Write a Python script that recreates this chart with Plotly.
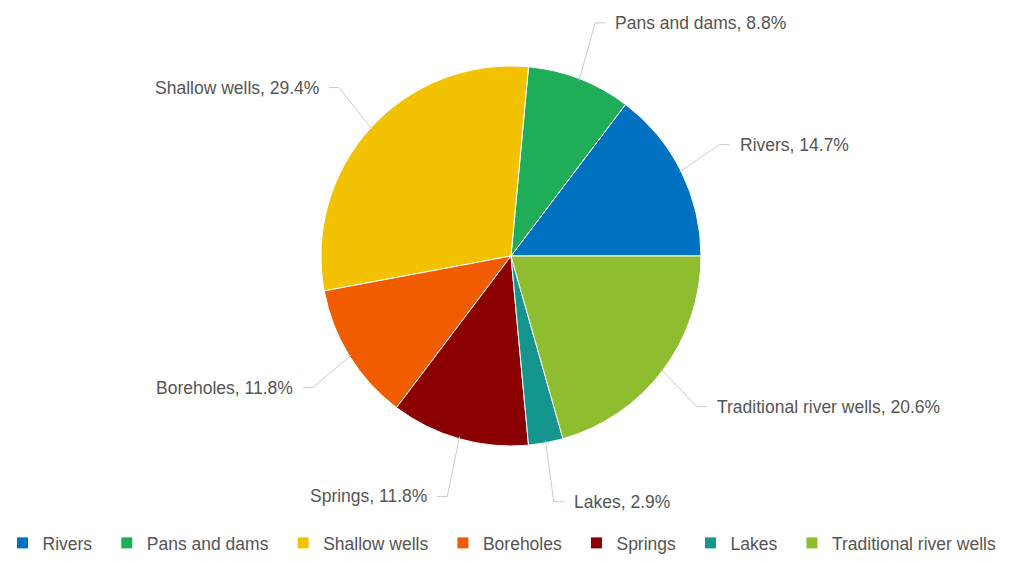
import math
import plotly.graph_objects as go

labels = ["Rivers", "Pans and dams", "Shallow wells", "Boreholes", "Springs", "Lakes", "Traditional river wells"]
counts = [5, 3, 10, 4, 4, 1, 7]
colors = ["#0070c0", "#1fae57", "#f2c200", "#f25c00", "#8b0000", "#14968f", "#8ebd2f"]

W, H = 1013, 561
CX, CY, R = 511, 256, 190
FONT = "Liberation Sans, Arial, sans-serif"
TEXT_COLOR = "#555555"
LINE_COLOR = "#c8ccd0"
FS = 17.5

total = sum(counts)
first_deg = 360 * counts[0] / total
PAD = "\u00a0" * 2

fig = go.Figure()
fig.add_trace(go.Pie(
    labels=[l + PAD for l in labels], values=counts, sort=False, direction="counterclockwise",
    rotation=90 - first_deg, textinfo="none", hoverinfo="label+percent",
    marker=dict(colors=colors, line=dict(color="white", width=1)),
    domain=dict(x=[(CX - R) / W, (CX + R) / W], y=[1 - (CY + R) / H, 1 - (CY - R) / H]),
))

cum = 0.0
annotations = []
shapes = []
for lab, v in zip(labels, counts):
    frac = v / total
    mid = 2 * math.pi * (cum + frac / 2)
    cum += frac
    ca, sa = math.cos(mid), math.sin(mid)
    x0, y0 = CX + (R - 2) * ca, CY - (R - 2) * sa
    x1, y1 = CX + (R + 43) * ca, CY - (R + 60) * sa
    sgn = 1 if ca >= 0 else -1
    x2 = x1 + 10 * sgn
    path = f"M {x0/W} {1-y0/H} L {x1/W} {1-y1/H} L {x2/W} {1-y1/H}"
    shapes.append(dict(type="path", xref="paper", yref="paper", path=path,
                       line=dict(color=LINE_COLOR, width=1)))
    annotations.append(dict(
        x=(x2 + 8 * sgn) / W, y=1 - y1 / H, xref="paper", yref="paper",
        text=f"{lab}, {frac*100:.1f}%", showarrow=False,
        xanchor="left" if sgn > 0 else "right", yanchor="middle",
        font=dict(family=FONT, size=FS, color=TEXT_COLOR),
    ))

fig.update_layout(
    width=W, height=H,
    margin=dict(l=0, r=0, t=0, b=0),
    paper_bgcolor="white", plot_bgcolor="white",
    shapes=shapes, annotations=annotations,
    showlegend=True,
    legend=dict(orientation="h", x=0.5, xanchor="center", y=0, yanchor="bottom",
                font=dict(family=FONT, size=FS, color=TEXT_COLOR), itemwidth=30,
                bgcolor="rgba(0,0,0,0)"),
)

fig.write_html("out.html")
